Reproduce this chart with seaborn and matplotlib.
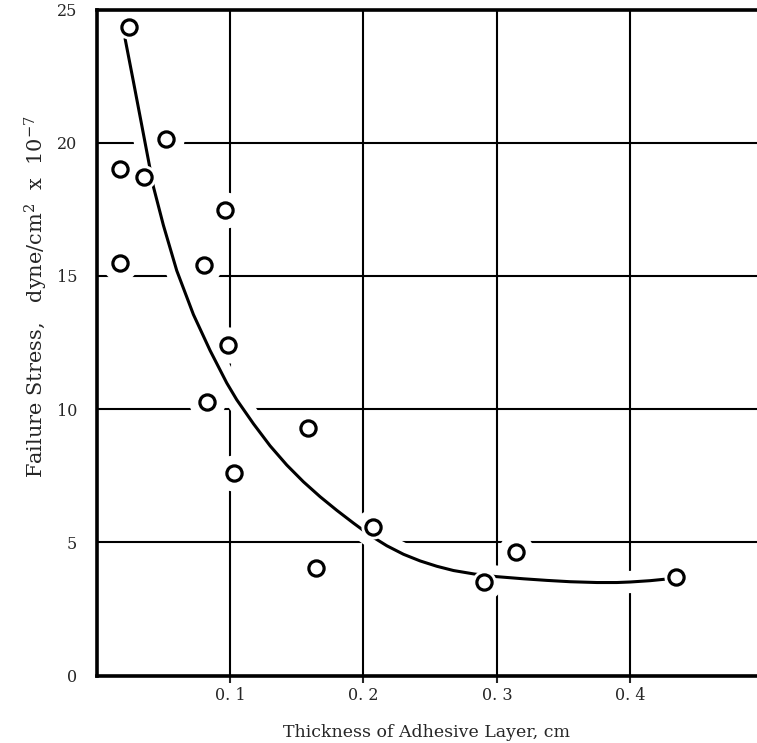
import matplotlib
matplotlib.use("Agg")
import matplotlib.pyplot as plt
import seaborn as sns
import pandas as pd

# measured data points (thickness cm, failure stress dyne/cm^2 x 1e-7)
thickness = [0.0245, 0.052, 0.0175, 0.0355, 0.0963, 0.0175, 0.0807, 0.0987,
             0.0825, 0.1583, 0.103, 0.1645, 0.207, 0.2906, 0.3146, 0.4346]
stress = [24.35, 20.13, 19.03, 18.72, 17.49, 15.49, 15.40, 12.40,
          10.27, 9.28, 7.59, 4.02, 5.58, 3.52, 4.65, 3.71]

# hand-drawn fitted curve
curve_x = [0.0213, 0.0275, 0.0338, 0.0395, 0.0425, 0.050, 0.060, 0.0725,
           0.085, 0.0975, 0.105, 0.1175, 0.130, 0.1425, 0.155, 0.1675,
           0.180, 0.1925, 0.205, 0.2175, 0.230, 0.2425, 0.255, 0.2675,
           0.283, 0.300, 0.320, 0.3375, 0.355, 0.375, 0.390, 0.400,
           0.415, 0.427]
curve_y = [23.9, 22.3, 20.65, 19.15, 18.35, 16.9, 15.2, 13.55,
           12.2, 10.98, 10.35, 9.45, 8.62, 7.9, 7.27, 6.71,
           6.2, 5.72, 5.26, 4.87, 4.55, 4.3, 4.1, 3.94,
           3.81, 3.71, 3.63, 3.57, 3.52, 3.49, 3.49, 3.51,
           3.56, 3.62]

xticks = [0.1, 0.2, 0.3, 0.4]
xticklabels = ["0. 1", "0. 2", "0. 3", "0. 4"]
yticks = [0, 5, 10, 15, 20, 25]

pts = pd.DataFrame({"x": thickness, "y": stress})
crv = pd.DataFrame({"x": curve_x, "y": curve_y})

sns.set_style("white")
plt.rcParams["font.family"] = ["DejaVu Serif"]
plt.rcParams["mathtext.fontset"] = "dejavuserif"

fig = plt.figure(figsize=(7.57, 7.43), dpi=100)
ax = fig.add_axes([96.7 / 757, 1 - 675.5 / 743, 1 - 96.7 / 757, 666 / 743])

# grid
ax.set_axisbelow(True)
ax.grid(True, color="black", linewidth=1.5)

# white halos that break the grid lines
sns.lineplot(data=crv, x="x", y="y", color="white", linewidth=16, ax=ax,
             zorder=1.5, sort=False)
sns.scatterplot(data=pts, x="x", y="y", s=680, color="white", linewidth=0,
                ax=ax, zorder=1.6)

# curve
sns.lineplot(data=crv, x="x", y="y", color="black", linewidth=2.2, ax=ax,
             zorder=3, sort=False)
ax.lines[-1].set_solid_joinstyle("round")

# small halo breaking the curve next to the markers
sns.scatterplot(data=pts, x="x", y="y", s=300, color="white", linewidth=0,
                ax=ax, zorder=3.5)
sns.scatterplot(data=pts, x="x", y="y", s=120, facecolor="white",
                edgecolor="black", linewidth=2.3, marker="o", ax=ax, zorder=4)

ax.set_xlim(0, 0.495)
ax.set_ylim(0, 25)
ax.set_xticks(xticks)
ax.set_xticklabels(xticklabels)
ax.set_yticks(yticks)

for side in ["left", "bottom", "top"]:
    ax.spines[side].set_linewidth(2.6)
    ax.spines[side].set_color("black")
ax.spines["right"].set_visible(False)

ax.tick_params(axis="x", length=5, width=1.5, pad=3, labelsize=11.5,
               direction="out", bottom=True)
ax.tick_params(axis="y", length=0, pad=14, labelsize=11.5)

ax.set_xlabel("Thickness of Adhesive Layer, cm", fontsize=12.5, labelpad=15)
ax.set_ylabel(r"Failure Stress,   dyne/cm$^{2}$  x  10$^{-7}$", fontsize=15)
ax.yaxis.set_label_coords(-0.07, 0.5695)

fig.savefig("out.png", dpi=100)
